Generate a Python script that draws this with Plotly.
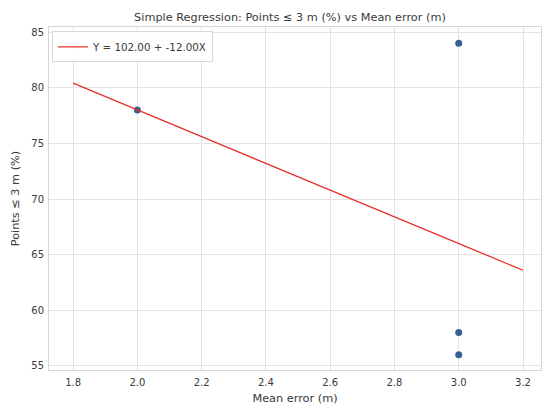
import numpy as np
import plotly.graph_objects as go

# Data
mean_error = [2.0, 3.0, 3.0, 3.0]
points_le3 = [78, 84, 58, 56]
line_x = [1.8, 3.2]
x_ticks = [1.8, 2.0, 2.2, 2.4, 2.6, 2.8, 3.0, 3.2]
y_ticks = [55, 60, 65, 70, 75, 80, 85]

slope, intercept = np.polyfit(mean_error, points_le3, 1)
line_y = [intercept + slope * x for x in line_x]

fig = go.Figure()
fig.add_trace(go.Scatter(
    x=mean_error, y=points_le3, mode="markers",
    marker=dict(color="#3a5f93", size=7, line=dict(width=0)),
    showlegend=False,
))
fig.add_trace(go.Scatter(
    x=line_x, y=line_y, mode="lines",
    line=dict(color="#e8302a", width=1.3),
    name=f"Y = {intercept:.2f} + {slope:.2f}X",
))

font = "DejaVu Sans, sans-serif"
fig.update_layout(
    width=542, height=410,
    margin=dict(l=49, r=1, t=27, b=40),
    paper_bgcolor="white", plot_bgcolor="white",
    font=dict(family=font, size=10, color="#3a3a3a"),
    title=dict(text="Simple Regression: Points ≤ 3 m (%) vs Mean error (m)",
               x=0.535, xanchor="center", y=1 - 17 / 410, yanchor="middle",
               font=dict(size=11.3, color="#3a3a3a")),
    legend=dict(x=0.006, y=0.987, xanchor="left", yanchor="top",
                bgcolor="rgba(255,255,255,0.8)", bordercolor="#d9d9d9",
                borderwidth=1, font=dict(size=10.3),
                itemwidth=30, tracegroupgap=0),
    xaxis=dict(range=[1.725, 3.256], tickvals=x_ticks,
               ticktext=[f"{v:.1f}" for v in x_ticks],
               showgrid=True, gridcolor="#e3e3e3", gridwidth=1,
               zeroline=False, showline=True, linecolor="#d6d6d6",
               mirror=True, ticks="", automargin=False, ticklabelstandoff=3,
               title=dict(text="Mean error (m)", standoff=7, font=dict(size=11.3))),
    yaxis=dict(range=[54.64, 85.45], tickvals=y_ticks,
               showgrid=True, gridcolor="#e3e3e3", gridwidth=1,
               zeroline=False, showline=True, linecolor="#d6d6d6",
               mirror=True, ticks="", automargin=False, ticklabelstandoff=2,
               title=dict(text="Points ≤ 3 m (%)", standoff=9, font=dict(size=11.3))),
)

fig.write_html("out.html", config={"displayModeBar": False},
               post_script="document.body.style.margin='0';")
